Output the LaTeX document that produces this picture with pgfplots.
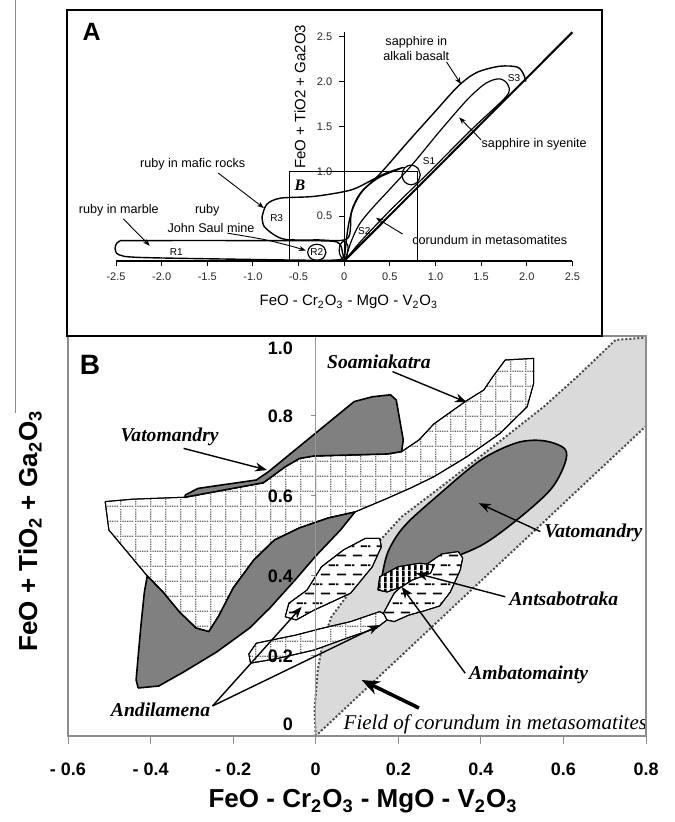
\documentclass[border=0pt]{standalone}
\usepackage{fontspec}
\setmainfont{Liberation Sans}
\newfontfamily\tnr{Liberation Serif}
\usepackage{pgfplots}
\pgfplotsset{compat=1.18}
\usetikzlibrary{arrows.meta,patterns}

\definecolor{darkg}{RGB}{128,128,128}
\definecolor{lightg}{RGB}{218,218,218}

% dotted grid (Soamiakatra)
\pgfdeclarepatternformonly{dotgrid}{\pgfpointorigin}{\pgfpoint{7.5pt}{7.5pt}}{\pgfpoint{7.5pt}{7.5pt}}{%
  \pgfpathrectangle{\pgfpoint{0pt}{0pt}}{\pgfpoint{0.7pt}{0.7pt}}%
  \pgfpathrectangle{\pgfpoint{1.25pt}{0pt}}{\pgfpoint{0.7pt}{0.7pt}}%
  \pgfpathrectangle{\pgfpoint{2.5pt}{0pt}}{\pgfpoint{0.7pt}{0.7pt}}%
  \pgfpathrectangle{\pgfpoint{3.75pt}{0pt}}{\pgfpoint{0.7pt}{0.7pt}}%
  \pgfpathrectangle{\pgfpoint{5pt}{0pt}}{\pgfpoint{0.7pt}{0.7pt}}%
  \pgfpathrectangle{\pgfpoint{6.25pt}{0pt}}{\pgfpoint{0.7pt}{0.7pt}}%
  \pgfpathrectangle{\pgfpoint{0pt}{1.25pt}}{\pgfpoint{0.7pt}{0.7pt}}%
  \pgfpathrectangle{\pgfpoint{0pt}{2.5pt}}{\pgfpoint{0.7pt}{0.7pt}}%
  \pgfpathrectangle{\pgfpoint{0pt}{3.75pt}}{\pgfpoint{0.7pt}{0.7pt}}%
  \pgfpathrectangle{\pgfpoint{0pt}{5pt}}{\pgfpoint{0.7pt}{0.7pt}}%
  \pgfpathrectangle{\pgfpoint{0pt}{6.25pt}}{\pgfpoint{0.7pt}{0.7pt}}%
  \pgfusepath{fill}}
% short dashes (Andilamena)
\pgfdeclarepatternformonly{hdash}{\pgfpointorigin}{\pgfpoint{8pt}{9.3pt}}{\pgfpoint{8pt}{9.3pt}}{%
  \pgfsetlinewidth{0.9pt}%
  \pgfpathmoveto{\pgfpoint{0.5pt}{2.3pt}}\pgfpathlineto{\pgfpoint{5.3pt}{2.3pt}}%
  \pgfpathmoveto{\pgfpoint{4.5pt}{6.95pt}}\pgfpathlineto{\pgfpoint{8pt}{6.95pt}}%
  \pgfpathmoveto{\pgfpoint{0pt}{6.95pt}}\pgfpathlineto{\pgfpoint{1.3pt}{6.95pt}}%
  \pgfusepath{stroke}}
% vertical stripes (Antsabotraka)
\pgfdeclarepatternformonly{vstripes}{\pgfpointorigin}{\pgfpoint{3pt}{3pt}}{\pgfpoint{3pt}{3pt}}{%
  \pgfpathrectangle{\pgfpointorigin}{\pgfpoint{1.5pt}{3pt}}\pgfusepath{fill}}

\tikzset{
  lbl/.style={font={\tnr\bfseries\itshape\fontsize{9.8}{11}\selectfont}, inner sep=1pt},
  sm/.style={font={\fontsize{6.3}{7.2}\selectfont}, inner sep=1pt},
  tiny/.style={font={\fontsize{5}{6}\selectfont}, inner sep=0.5pt},
  arrB/.style={-{Stealth[length=6pt,width=4.5pt]}, line width=0.7pt},
  arrA/.style={-{Stealth[length=3.5pt,width=2.6pt]}, line width=0.45pt},
}

\begin{document}
\begin{tikzpicture}
\path[use as bounding box] (0,0) rectangle (337pt,411pt);

% ---------------- panel B ----------------
\begin{axis}[
  at={(34pt,43pt)}, anchor=south west, scale only axis,
  width=289pt, height=200pt,
  xmin=-0.6, xmax=0.8, ymin=0, ymax=1,
  axis on top,
  axis line style={black!45, line width=0.6pt},
  xtick={-0.6,-0.4,-0.2,0,0.2,0.4,0.6,0.8},
  xticklabels={- 0.6,- 0.4,- 0.2,0,0.2,0.4,0.6,0.8},
  xtick pos=bottom, tick align=outside, major tick length=4pt,
  xtick style={black!45, line width=0.5pt},
  ytick={0.028,0.2,0.4,0.6,0.8,0.97},
  yticklabels={0,0.2,0.4,0.6,0.8,1.0},
  ytick style={draw=none},
  ticklabel style={font={\bfseries\fontsize{9}{10}\selectfont}},
  xticklabel style={anchor=base, yshift=-16pt},
  yticklabel style={anchor=east, xshift=120pt},
]
% field of corundum in metasomatites
\addplot[fill=lightg, draw=none] coordinates {
 (0,0) (-0.003,0.065) (0.005,0.165) (0.018,0.24) (0.038,0.298) (0.074,0.348)
 (0.098,0.39) (0.13,0.46) (0.208,0.548) (0.30,0.62) (0.45,0.74) (0.552,0.823)
 (0.633,0.898) (0.726,0.99) (0.8,0.996) (0.8,0.775) (0,0)};
\addplot[densely dotted, line width=1pt, black!70] coordinates {
 (0,0) (-0.003,0.065) (0.005,0.165) (0.018,0.24) (0.038,0.298) (0.074,0.348)
 (0.098,0.39) (0.13,0.46) (0.208,0.548) (0.30,0.62) (0.45,0.74) (0.552,0.823)
 (0.633,0.898) (0.726,0.99) (0.8,0.996)};
\addplot[densely dotted, line width=1pt, black!70] coordinates {(0.8,0.996) (0.8,0.775) (0,0)};

% Soamiakatra
\addplot[pattern=dotgrid, pattern color=black!60, preaction={fill=white}, draw=black, line width=0.5pt] coordinates {
 (-0.51,0.586) (-0.501,0.515) (-0.408,0.40) (-0.37,0.36) (-0.33,0.31) (-0.29,0.27)
 (-0.259,0.261) (-0.235,0.3) (-0.2,0.37) (-0.15,0.44) (-0.1,0.49) (-0.04,0.52)
 (0.03,0.545) (0.095,0.56) (0.173,0.594) (0.23,0.62) (0.286,0.648) (0.366,0.698)
 (0.447,0.757) (0.512,0.823) (0.528,0.882) (0.528,0.944) (0.459,0.94) (0.43,0.9)
 (0.407,0.865) (0.362,0.836) (0.286,0.78) (0.25,0.74) (0.208,0.711) (0.173,0.705)
 (-0.004,0.70) (-0.039,0.694) (-0.074,0.673) (-0.127,0.633) (-0.316,0.597)
 (-0.444,0.592) (-0.51,0.586)};

% Vatomandry (upper-left)
\addplot[fill=darkg, draw=black, line width=0.8pt] coordinates {
 (-0.316,0.6025) (-0.285,0.619) (-0.144,0.64) (-0.114,0.661) (0.093,0.836)
 (0.137,0.848) (0.181,0.853) (0.195,0.84) (0.212,0.74) (0.208,0.711) (0.173,0.705)
 (-0.004,0.70) (-0.039,0.694) (-0.074,0.673) (-0.127,0.633) (-0.316,0.597) (-0.316,0.6025)};

% Vatomandry (lower-left)
\addplot[fill=darkg, draw=black, line width=0.8pt] coordinates {
 (-0.43,0.12) (-0.38,0.125) (-0.32,0.16) (-0.24,0.21) (-0.16,0.27) (-0.111,0.32)
 (-0.05,0.39) (0.0,0.45) (0.06,0.515) (0.095,0.56) (0.03,0.545) (-0.04,0.52)
 (-0.1,0.49) (-0.15,0.44) (-0.2,0.37) (-0.235,0.3) (-0.259,0.261) (-0.29,0.27)
 (-0.33,0.31) (-0.37,0.36) (-0.408,0.40) (-0.415,0.36) (-0.423,0.28) (-0.43,0.2)
 (-0.435,0.14) (-0.43,0.12)};

% lower cross-hatched band
\addplot[pattern=dotgrid, pattern color=black!60, preaction={fill=white}, draw=black, line width=0.5pt] coordinates {
 (-0.144,0.232) (-0.0475,0.2525) (0.014,0.269) (0.0845,0.286) (0.155,0.311)
 (0.175,0.30) (0.1725,0.29) (0.146,0.269) (0.0845,0.248) (-0.0035,0.215)
 (-0.0915,0.194) (-0.158,0.182) (-0.162,0.205) (-0.144,0.232)};

% Vatomandry ellipse
\addplot[fill=darkg, draw=black, line width=0.8pt, smooth, tension=0.55] coordinates {
 (0.16,0.395) (0.175,0.46) (0.215,0.525) (0.30,0.605) (0.40,0.69) (0.487,0.733)
 (0.552,0.738) (0.603,0.718) (0.603,0.68) (0.568,0.615) (0.487,0.54) (0.407,0.48)
 (0.33,0.445) (0.26,0.42) (0.2,0.398) (0.16,0.395)};

% dashed regions
\addplot[pattern=hdash, pattern color=black, preaction={fill=white}, draw=black, line width=0.5pt] coordinates {
 (-0.074,0.298) (-0.065,0.332) (-0.021,0.365) (0.014,0.423) (0.067,0.465)
 (0.12,0.494) (0.155,0.494) (0.159,0.473) (0.137,0.423) (0.0845,0.357)
 (0.049,0.34) (-0.0035,0.315) (-0.0475,0.29) (-0.074,0.298)};
\addplot[pattern=hdash, pattern color=black, preaction={fill=white}, draw=black, line width=0.5pt] coordinates {
 (0.1725,0.29) (0.164,0.307) (0.19,0.357) (0.225,0.39) (0.26,0.423) (0.305,0.455)
 (0.345,0.461) (0.356,0.445) (0.35,0.415) (0.326,0.36) (0.30,0.325) (0.26,0.312)
 (0.225,0.302) (0.19,0.286) (0.1725,0.29)};

% Antsabotraka stripes
\addplot[pattern=vstripes, pattern color=black, preaction={fill=white}, draw=black, line width=0.5pt] coordinates {
 (0.1505,0.365) (0.155,0.398) (0.199,0.423) (0.252,0.432) (0.287,0.4275)
 (0.278,0.407) (0.234,0.39) (0.208,0.373) (0.173,0.36) (0.1505,0.365)};

% y axis line at x = 0
\addplot[black!40, line width=0.5pt] coordinates {(0,0) (0,1)};
\addplot[black!45, line width=0.5pt] coordinates {(-0.012,0.2) (0,0.2)};
\addplot[black!45, line width=0.5pt] coordinates {(-0.012,0.4) (0,0.4)};
\addplot[black!45, line width=0.5pt] coordinates {(-0.012,0.6) (0,0.6)};
\addplot[black!45, line width=0.5pt] coordinates {(-0.012,0.8) (0,0.8)};

% arrows
\addplot[arrB] coordinates {(0.186,0.911) (0.366,0.834)};
\addplot[arrB] coordinates {(-0.32,0.719) (-0.118,0.665)};
\addplot[arrB] coordinates {(0.544,0.511) (0.395,0.582)};
\addplot[arrB] coordinates {(0.459,0.348) (0.243,0.407)};
\addplot[arrB] coordinates {(0.362,0.157) (0.208,0.373)};
\addplot[arrB] coordinates {(-0.25,0.075) (-0.034,0.323)};
\addplot[arrB] coordinates {(-0.25,0.075) (0.155,0.2775)};
\addplot[-{Stealth[length=9pt,width=7pt]}, line width=1.8pt] coordinates {(0.25,0.07) (0.111,0.14)};

% labels
\node[lbl] at (0.153,0.936) {Soamiakatra};
\node[lbl] at (-0.354,0.748) {Vatomandry};
\node[lbl, anchor=west] at (0.548,0.5075) {Vatomandry};
\node[lbl, anchor=west] at (0.463,0.344) {Antsabotraka};
\node[lbl, anchor=west] at (0.366,0.1525) {Ambatomainty};
\node[lbl, anchor=east] at (-0.25,0.065) {Andilamena};
\node[font={\tnr\itshape\fontsize{10.5}{12}\selectfont}, anchor=west, inner sep=1pt] at (0.062,0.03) {Field of corundum in metasomatites};
\end{axis}

% ---------------- panel A ----------------
\begin{axis}[
  at={(58pt,280.5pt)}, anchor=south west, scale only axis,
  width=228.2pt, height=114.4pt,
  xmin=-2.5, xmax=2.5, ymin=0, ymax=2.55,
  axis lines=middle, axis line style={-, line width=0.6pt},
  hide obscured x ticks=false, hide obscured y ticks=false,
  tick align=outside, major tick length=2.5pt,
  tick style={black, line width=0.5pt},
  xtick={-2.5,-2,-1.5,-1,-0.5,0,0.5,1,1.5,2,2.5},
  xticklabels={-2.5,-2.0,-1.5,-1.0,-0.5,0,0.5,1.0,1.5,2.0,2.5},
  ytick={0.5,1,1.5,2,2.5},
  yticklabels={0.5,1.0,1.5,2.0,2.5},
  ticklabel style={font={\fontsize{5.5}{6}\selectfont}, text=black!85},
  clip=false,
]
% box B
\addplot[line width=0.5pt] coordinates {(-0.6,0) (-0.6,1) (0.8,1) (0.8,0)};
% corundum line
\addplot[line width=1pt] coordinates {(0,0) (2.5,2.55)};
% R1 ruby in marble
\addplot[smooth, tension=0.5, line width=0.7pt] coordinates {
 (-2.45,0.227) (-1.5,0.228) (-0.6,0.226) (-0.15,0.222) (-0.05,0.19) (-0.02,0.1)
 (-0.03,0.02) (-0.3,0.008) (-1.2,0.02) (-2.25,0.04) (-2.47,0.07) (-2.51,0.14)
 (-2.49,0.2) (-2.45,0.227)};
% R3 ruby in mafic rocks
\addplot[smooth, tension=0.5, line width=0.7pt] coordinates {
 (-0.9,0.49) (-0.85,0.63) (-0.7,0.7) (-0.33,0.72) (0.07,0.79) (0.3,0.9) (0.46,0.98)
 (0.64,1.04) (0.38,0.93) (0.18,0.76) (0.08,0.55) (0.035,0.25) (-0.3,0.235)
 (-0.64,0.24) (-0.78,0.3) (-0.88,0.39) (-0.9,0.49)};
% sapphire in alkali basalt
\addplot[smooth, tension=0.5, line width=0.7pt] coordinates {
 (0,0) (0.02,0.2) (0.05,0.42) (0.1,0.6) (0.2,0.78) (0.4,0.98) (0.7,1.33) (1.0,1.67)
 (1.25,1.95) (1.45,2.1) (1.7,2.17) (1.9,2.16) (1.97,2.07) (1.99,2.0)};
% sapphire in syenite
\addplot[smooth, tension=0.5, line width=0.6pt] coordinates {
 (0.02,0.03) (0.07,0.2) (0.16,0.4) (0.3,0.58) (0.5,0.8) (0.75,1.08) (1.05,1.45)
 (1.35,1.8) (1.55,1.98) (1.7,2.03) (1.79,1.97) (1.78,1.84) (1.4,1.47) (0.9,0.96)
 (0.5,0.56) (0.2,0.24) (0.05,0.06) (0.02,0.03)};
% S1, R2 and the small loop at the origin
\addplot[smooth, tension=0.6, line width=0.6pt] coordinates {
 (0.833,0.959) (0.804,1.037) (0.733,1.069) (0.662,1.037) (0.633,0.959)
 (0.662,0.881) (0.733,0.849) (0.804,0.881) (0.833,0.959)};
\addplot[smooth, tension=0.6, line width=0.6pt] coordinates {
 (-0.2,0.097) (-0.229,0.161) (-0.3,0.187) (-0.371,0.161) (-0.4,0.097)
 (-0.371,0.033) (-0.3,0.007) (-0.229,0.033) (-0.2,0.097)};
\addplot[smooth, tension=0.6, line width=0.6pt] coordinates {
 (0,0) (-0.05,0.08) (-0.045,0.18) (0,0.22) (0.04,0.17) (0.03,0.07) (0,0)};
% arrows
\addplot[arrA] coordinates {(1.12,2.22) (1.28,1.97)};
\addplot[arrA] coordinates {(1.5,1.35) (1.26,1.6)};
\addplot[arrA] coordinates {(0.64,0.30) (0.35,0.48)};
\addplot[arrA] coordinates {(-1.38,0.98) (-0.88,0.59)};
\addplot[arrA] coordinates {(-2.42,0.47) (-2.13,0.17)};
\addplot[arrA, smooth] coordinates {(-1.28,0.31) (-0.88,0.24) (-0.56,0.16) (-0.42,0.115)};
% text
\node[sm, align=center] at (0.79,2.37) {sapphire in\\alkali basalt};
\node[sm, anchor=west] at (1.48,1.30) {sapphire in syenite};
\node[sm, anchor=west] at (0.72,0.234) {corundum in metasomatites};
\node[sm] at (-1.66,1.08) {ruby in mafic rocks};
\node[sm] at (-2.47,0.56) {ruby in marble};
\node[sm] at (-1.50,0.56) {ruby};
\node[sm] at (-1.46,0.37) {John Saul mine};
\node[tiny] at (-1.84,0.1) {R1};
\node[tiny] at (-0.30,0.1) {R2};
\node[tiny] at (-0.74,0.48) {R3};
\node[tiny] at (0.93,1.11) {S1};
\node[tiny] at (0.22,0.33) {S2};
\node[tiny] at (1.86,2.04) {S3};
\node[font={\tnr\bfseries\itshape\fontsize{8}{9}\selectfont}] at (-0.484,0.847) {B};
\node[font={\fontsize{7.5}{8.5}\selectfont}] at (0.05,-0.457) {FeO - Cr\textsubscript{2}O\textsubscript{3} - MgO - V\textsubscript{2}O\textsubscript{3}};
\node[font={\fontsize{7.5}{8.5}\selectfont}, rotate=90] at (-0.484,1.83) {FeO + TiO2 + Ga2O3};
\end{axis}

% frames and panel letters
\draw[line width=1pt] (33.5pt,406pt) rectangle (301pt,243pt);
\draw[black!45, line width=0.4pt] (7.85pt,411pt) -- (7.85pt,204.5pt);
\node[font={\bfseries\fontsize{12.5}{14}\selectfont}] at (45.85pt,395pt) {A};
\node[font={\bfseries\fontsize{14}{16}\selectfont}] at (45pt,228.5pt) {B};
\node[font={\bfseries\fontsize{13}{15}\selectfont}, rotate=90] at (15pt,145.5pt) {FeO + TiO\textsubscript{2} + Ga\textsubscript{2}O\textsubscript{3}};
\node[font={\bfseries\fontsize{13}{15}\selectfont}, anchor=base] at (181.5pt,7pt) {FeO - Cr\textsubscript{2}O\textsubscript{3} - MgO - V\textsubscript{2}O\textsubscript{3}};
\end{tikzpicture}
\end{document}
